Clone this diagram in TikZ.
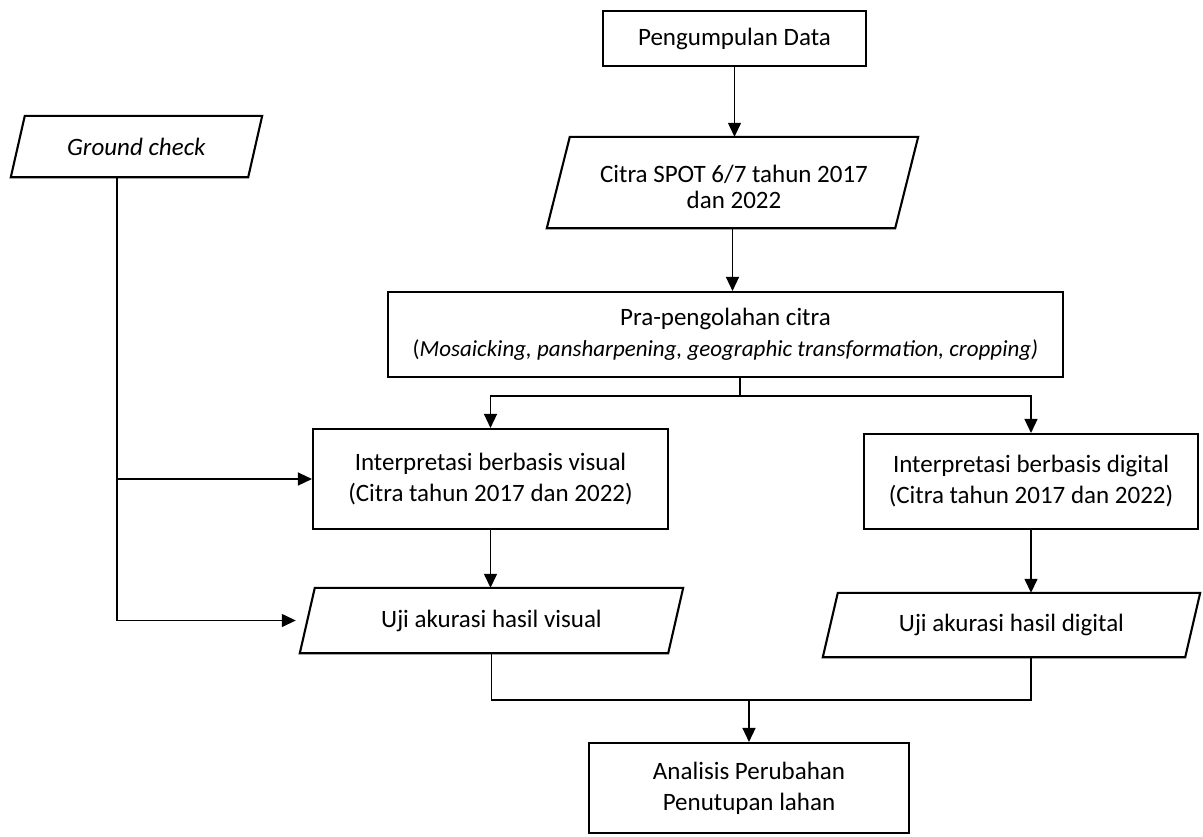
\documentclass[tikz,border=0pt]{standalone}
\usepackage{fontspec}
\setmainfont{Carlito}
\usetikzlibrary{arrows.meta,calc}
\newcommand\paraoutline[2]{\draw[pline] (#1.south west) -- ($(#1.north west)+(#2,0)$) -- (#1.north east) -- ($(#1.south east)-(#2,0)$) -- cycle;}
\begin{document}
\begin{tikzpicture}[x=1pt,y=-1pt,
  txt/.style={inner sep=0pt, align=center, font=\fontsize{25}{31}\selectfont},
  rbox/.style={txt, draw, line width=2.1pt},
  pbox/.style={txt},
  pline/.style={line width=2.1pt, line join=miter},
  conn/.style={line width=1.4pt},
  arr/.style={conn, -{Triangle[length=14pt,width=13pt]}}]
\useasboundingbox (0,0) rectangle (1203,836);
% nodes
\node[rbox, minimum width=263, minimum height=55] (pd) at (734.5,38.5) {Pengumpulan Data};
\node[pbox, minimum width=371, minimum height=91] (cs) at (732.5,182.5) {};
\node[txt, font=\fontsize{25}{26.5}\selectfont] (cstext) at (734,187) {Citra SPOT 6/7 tahun 2017\\dan 2022};
\paraoutline{cs}{23}
\node[rbox, minimum width=675, minimum height=85] (pp) at (725.5,334.5) {Pra-pengolahan citra\\{\fontsize{23}{31}\selectfont(\textit{Mosaicking, pansharpening, geographic transformation, cropping)}}};
\node[rbox, minimum width=355, minimum height=100] (iv) at (490.5,479) {Interpretasi berbasis visual\\(Citra tahun 2017 dan 2022)};
\node[rbox, minimum width=334, minimum height=95] (id) at (1031,481.5) {Interpretasi berbasis digital\\(Citra tahun 2017 dan 2022)};
\node[pbox, minimum width=383, minimum height=65] (uv) at (491.5,620.5) {Uji akurasi hasil visual};
\paraoutline{uv}{15}
\node[pbox, minimum width=377, minimum height=64] (ud) at (1011.5,625) {Uji akurasi hasil digital};
\paraoutline{ud}{15}
\node[rbox, minimum width=320, minimum height=90] (ap) at (749,788) {Analisis Perubahan\\Penutupan lahan};
\node[pbox, minimum width=251, minimum height=61] (gc) at (136.5,146.5) {\textit{Ground check}};
\paraoutline{gc}{14}
% coordinates
\coordinate (split) at (740,396);
\coordinate (jn) at (749,700);
\coordinate (gl) at ([xshift=-19.5pt]gc.south);
% connectors
\draw[arr] (pd.south) -- (pd.south |- cs.north);
\draw[arr] (cs.south) -- (cs.south |- pp.north);
\draw[conn] (pp.south -| split) -- (split);
\draw[arr] (split) -| (iv.north);
\draw[arr] (split) -| (id.north);
\draw[arr] (iv.south) -- (iv.south |- uv.north);
\draw[arr] (id.south) -- (id.south |- ud.north);
\draw[conn] (uv.south) -- (uv.south |- jn) -- (id.south |- jn) -- (id.south |- ud.south);
\draw[arr] (jn) -- (ap.north);
\draw[conn] (gl) -- (gl |- uv.west);
\draw[arr] (gl |- iv.west) -- (iv.west);
\draw[arr] (gl |- uv.west) -- ([xshift=-4pt]uv.west);
\end{tikzpicture}
\end{document}
